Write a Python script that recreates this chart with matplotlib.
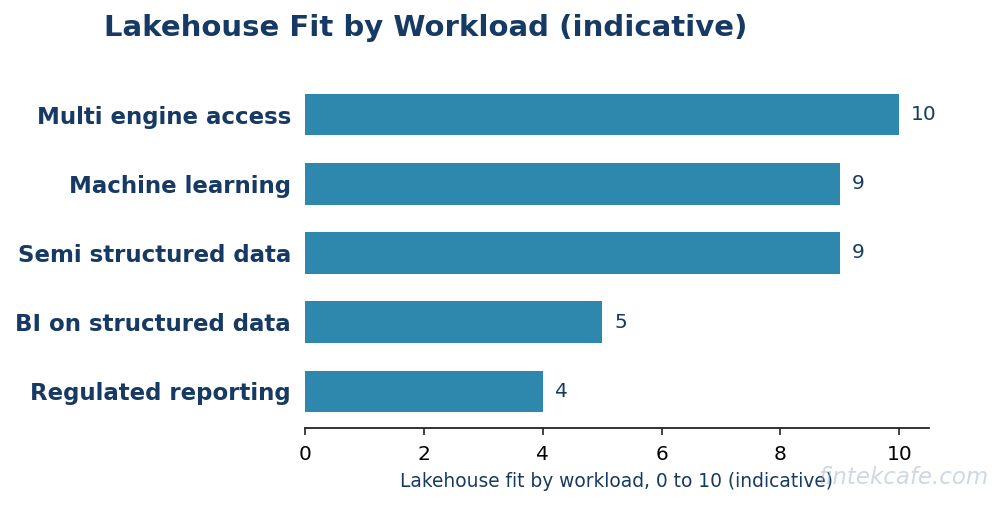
import matplotlib.pyplot as plt

# data (bottom to top)
categories = ["Regulated reporting", "BI on structured data", "Semi structured data",
              "Machine learning", "Multi engine access"]
scores = [4, 5, 9, 9, 10]

navy = "#163a63"
bar_color = "#2e88ad"

fig = plt.figure(figsize=(10.04, 5.05), dpi=100)
ax = fig.add_axes([305 / 1004, 1 - 428 / 505, (929 - 305) / 1004, (428 - 78) / 505])

bars = ax.barh(categories, scores, height=0.6, color=bar_color)
for b, v in zip(bars, scores):
    ax.text(v + 0.2, b.get_y() + b.get_height() / 2, f"{v}", va="center", ha="left",
            fontsize=14.5, color=navy)

ax.set_xlim(0, 10.5)
ax.set_xticks([0, 2, 4, 6, 8, 10])
ax.tick_params(axis="x", labelsize=14.5, length=5, width=1.2, pad=7,
               colors="#222222", labelcolor="black")
ax.tick_params(axis="y", length=0, pad=10)
for lbl in ax.get_yticklabels():
    lbl.set_fontsize(16.5)
    lbl.set_fontweight("bold")
    lbl.set_color(navy)

for s in ["top", "right", "left"]:
    ax.spines[s].set_visible(False)
ax.spines["bottom"].set_linewidth(1.3)
ax.spines["bottom"].set_color("#222222")

ax.set_xlabel("Lakehouse fit by workload, 0 to 10 (indicative)", fontsize=13.4, color=navy, labelpad=6)

fig.text(104 / 1004, 1 - 28 / 505, "Lakehouse Fit by Workload (indicative)", ha="left", va="center",
         fontsize=21, fontweight="bold", color=navy)

fig.text(989 / 1004, 1 - 477 / 505, "fintekcafe.com", ha="right", va="center", fontsize=16.5,
         style="italic", color="#9fb3c8", alpha=0.5)

fig.savefig("out.png", dpi=100)
